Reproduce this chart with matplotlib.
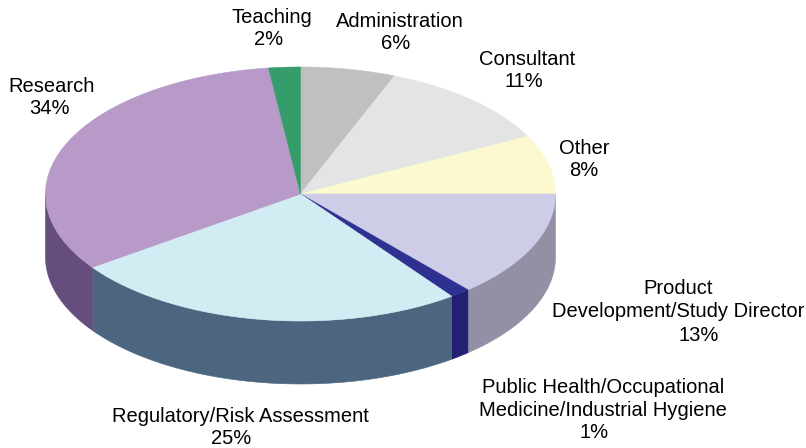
import numpy as np
import matplotlib; matplotlib.use('Agg')
import matplotlib.pyplot as plt
from matplotlib.patches import Polygon
plt.rcParams['font.family'] = ['Liberation Sans', 'DejaVu Sans']

W, H = 806, 448
names = ['Administration', 'Consultant', 'Other', 'Product\nDevelopment/Study Director',
         'Public Health/Occupational\nMedicine/Industrial Hygiene',
         'Regulatory/Risk Assessment', 'Research', 'Teaching']
labels_pct = [6, 11, 8, 13, 1, 25, 34, 2]
# slice sizes as drawn, the printed percentages don't quite match the picture
drawn = [6.0, 11.5, 7.5, 13.6, 1.3, 25.3, 32.8, 2.0]
top_colors = ['#c0c0c0', '#e3e4e3', '#fcf9d0', '#cecde8', '#2e3192', '#d2ecf4', '#b79ac8', '#359d6b']
side_colors = ['#808080', '#8e8e8e', '#9d9b80', '#9390a6', '#231f73', '#4d6680', '#654d7e', '#1f6b45']
# baselines in pixels, the % line is not centred under the name in the original
name_xy = [(400, 27), (527, 65), (584, 154), (678, 317), (603, 416), (240, 422), (52, 92), (272, 23)]
pct_xy = [(396, 49), (524, 87), (584, 176), (699, 341), (594, 438), (231, 444), (49, 114), (269, 45)]

cx, cy, rx, ry, depth = 300.5, 194, 255, 127, 63

fig = plt.figure(figsize=(W/100, H/100), dpi=100)
ax = fig.add_axes([0, 0, 1, 1])
ax.set_xlim(0, W); ax.set_ylim(H, 0); ax.axis('off')

def arc(a0, a1):
    t = np.radians(np.linspace(a0, a1, max(int(abs(a1-a0)*2), 2)))
    return cx + rx*np.sin(t), cy - ry*np.cos(t)

edges = np.cumsum([0] + drawn) / sum(drawn) * 360
# side walls, only the front half (90..270 deg clockwise from top) shows
for i in range(len(drawn)):
    a0, a1 = max(edges[i], 90), min(edges[i+1], 270)
    if a1 <= a0:
        continue
    x, y = arc(a0, a1)
    pts = np.r_[np.c_[x, y], np.c_[x, y + depth][::-1]]
    ax.add_patch(Polygon(pts, fc=side_colors[i], ec=side_colors[i], lw=0.4, zorder=2))
# top face
for i in range(len(drawn)):
    x, y = arc(edges[i], edges[i+1])
    pts = np.r_[[[cx, cy]], np.c_[x, y]]
    ax.add_patch(Polygon(pts, fc=top_colors[i], ec=top_colors[i], lw=0.4, zorder=3))

for n, p, (nx, ny), (px, py) in zip(names, labels_pct, name_xy, pct_xy):
    ax.text(nx, ny, n, ha='center', va='baseline', fontsize=14.5, color='#000000',
            linespacing=1.25, zorder=5)
    ax.text(px, py, f'{p}%', ha='center', va='baseline', fontsize=14.5, color='#000000', zorder=5)

fig.savefig('out.png', dpi=100)
